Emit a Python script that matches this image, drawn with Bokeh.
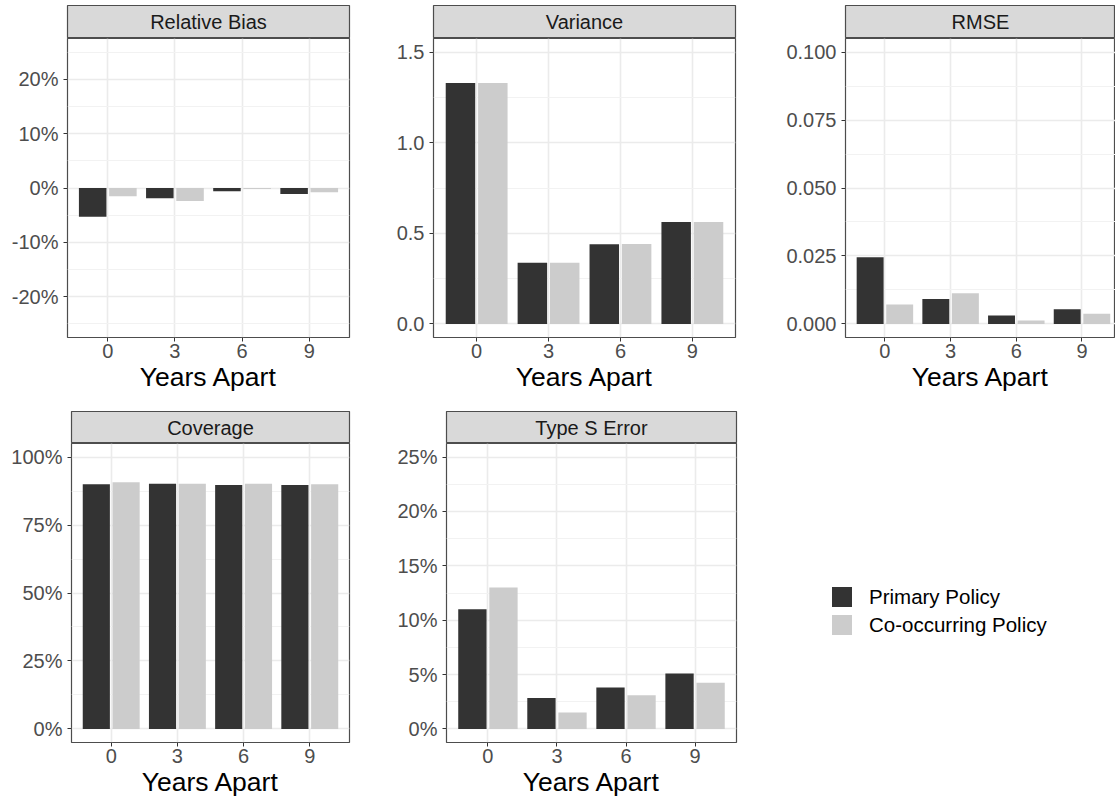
from bokeh.plotting import figure
from bokeh.models import (ColumnDataSource, Range1d, FixedTicker,
                          NumeralTickFormatter, Legend, LegendItem)
from bokeh.layouts import row, column
from bokeh.transform import dodge
from bokeh.embed import file_html
from bokeh.resources import INLINE
from bokeh.core.properties import value

# ---------------- data ----------------
years = ["0", "3", "6", "9"]
policies = ["Primary Policy", "Co-occurring Policy"]
x_title = "Years Apart"

panel_titles = ["Relative Bias", "Variance", "RMSE", "Coverage", "Type S Error"]

rel_bias_primary = [-0.053, -0.019, -0.006, -0.011]
rel_bias_cooc = [-0.015, -0.024, -0.002, -0.008]

variance_primary = [1.329, 0.337, 0.440, 0.563]
variance_cooc = [1.329, 0.337, 0.441, 0.563]

rmse_primary = [0.0245, 0.0092, 0.0031, 0.0054]
rmse_cooc = [0.0071, 0.0113, 0.0013, 0.0037]

coverage_primary = [0.900, 0.902, 0.897, 0.897]
coverage_cooc = [0.907, 0.902, 0.902, 0.900]

type_s_primary = [0.110, 0.0285, 0.038, 0.051]
type_s_cooc = [0.130, 0.015, 0.031, 0.0425]

# y-axis tick values and axis limits
ticks_bias = [-0.2, -0.1, 0.0, 0.1, 0.2]
ticks_var = [0.0, 0.5, 1.0, 1.5]
ticks_rmse = [0.0, 0.025, 0.05, 0.075, 0.1]
ticks_cov = [0.0, 0.25, 0.5, 0.75, 1.0]
ticks_types = [0.0, 0.05, 0.10, 0.15, 0.20, 0.25]

limits_bias = (-0.25, 0.25)
limits_var = (0.0, 1.5)
limits_rmse = (0.0, 0.1)
limits_cov = (0.0, 1.0)
limits_types = (0.0, 0.25)

# ---------------- style ----------------
FONT = value("Liberation Sans")
DARK = "#333333"
LIGHT = "#cccccc"
TICK_FS = "20px"
BORDER = "#4d4d4d"


def make_strip(title, width, left, right, height, top=0):
    s = figure(width=width, height=height, x_range=Range1d(0, 1),
               y_range=Range1d(0, 1), output_backend="svg",
               toolbar_location=None, min_border_left=left,
               min_border_right=right, min_border_top=top, min_border_bottom=0,
               x_axis_location=None, y_axis_location=None,
               background_fill_color="#d9d9d9", border_fill_color="white",
               outline_line_color=BORDER, outline_line_width=1.2)
    s.grid.visible = False
    s.text(x=[0.5], y=[0.5], text=[title], text_align="center",
           text_baseline="middle", text_font=FONT,
           text_font_size="20px", text_color="#1a1a1a")
    return s


def make_panel(primary, cooc, ticks, limits, fmt, width, height, left, right,
               bottom, x_end=4.6):
    xs = list(range(1, len(years) + 1))
    src = ColumnDataSource(dict(x=xs, primary=primary, cooc=cooc))
    lo, hi = limits
    span = hi - lo
    p = figure(width=width, height=height,
               x_range=Range1d(0.4, x_end),
               y_range=Range1d(lo - 0.05 * span, hi + 0.05 * span),
               output_backend="svg", toolbar_location=None,
               min_border_left=left, min_border_right=right,
               min_border_top=0, min_border_bottom=bottom,
               background_fill_color="white", border_fill_color="white",
               outline_line_color=BORDER, outline_line_width=1.2)
    p.vbar(x=dodge("x", -0.225, range=p.x_range), top="primary", width=0.41,
           source=src, fill_color=DARK, line_color=None)
    p.vbar(x=dodge("x", 0.225, range=p.x_range), top="cooc", width=0.41,
           source=src, fill_color=LIGHT, line_color=None)

    step = ticks[1] - ticks[0]
    minors = [t + step / 2 for t in ticks[:-1]]
    minors += [ticks[0] - step / 2, ticks[-1] + step / 2]
    minors = [m for m in minors if lo - 1e-9 <= m <= hi + 1e-9]

    p.xaxis.ticker = FixedTicker(ticks=xs)
    p.xaxis.major_label_overrides = {x: lab for x, lab in zip(xs, years)}
    p.xaxis.axis_label = x_title
    p.xaxis.axis_label_text_font = "Liberation Sans"
    p.xaxis.axis_label_text_font_size = "26.5px"
    p.xaxis.axis_label_text_font_style = "normal"
    p.xaxis.axis_label_text_color = "#000000"
    p.xaxis.axis_label_standoff = 1
    p.xaxis.major_label_standoff = 2

    p.yaxis.ticker = FixedTicker(ticks=ticks, minor_ticks=minors)
    p.yaxis.formatter = NumeralTickFormatter(format=fmt)
    p.yaxis.major_label_standoff = 5

    for ax in p.axis:
        ax.axis_line_color = None
        ax.major_tick_line_color = "#333333"
        ax.major_tick_line_width = 1
        ax.major_tick_out = 4
        ax.major_tick_in = 0
        ax.minor_tick_line_color = None
        ax.major_label_text_font = "Liberation Sans"
        ax.major_label_text_font_size = TICK_FS
        ax.major_label_text_color = "#4d4d4d"

    p.xgrid.grid_line_color = "#ebebeb"
    p.xgrid.grid_line_width = 1.6
    p.ygrid.grid_line_color = "#ebebeb"
    p.ygrid.grid_line_width = 1.6
    p.ygrid.minor_grid_line_color = "#f2f2f2"
    p.ygrid.minor_grid_line_width = 1.0
    return p


# ---------------- top row ----------------
TOP_STRIP_H = 38      # 5 px gap + 33 px strip
TOP_MAIN_H = 373
TOP_BOTTOM = 74

s1 = make_strip(panel_titles[0], 391, 67, 42, TOP_STRIP_H, top=5)
p1 = make_panel(rel_bias_primary, rel_bias_cooc, ticks_bias, limits_bias,
                "0%", 391, TOP_MAIN_H, 67, 42, TOP_BOTTOM)

s2 = make_strip(panel_titles[1], 392, 42, 48, TOP_STRIP_H, top=5)
p2 = make_panel(variance_primary, variance_cooc, ticks_var, limits_var,
                "0.0", 392, TOP_MAIN_H, 42, 48, TOP_BOTTOM)

s3 = make_strip(panel_titles[2], 332, 59, 0, TOP_STRIP_H, top=5)
p3 = make_panel(rmse_primary, rmse_cooc, ticks_rmse, limits_rmse,
                "0.000", 332, TOP_MAIN_H, 59, 0, TOP_BOTTOM, x_end=4.51)

# ---------------- bottom row ----------------
BOT_STRIP_H = 32
BOT_MAIN_H = 356
BOT_BOTTOM = 57

s4 = make_strip(panel_titles[3], 391, 71, 42, BOT_STRIP_H)
p4 = make_panel(coverage_primary, coverage_cooc, ticks_cov, limits_cov,
                "0%", 391, BOT_MAIN_H, 71, 42, BOT_BOTTOM)

s5 = make_strip(panel_titles[4], 392, 55, 47, BOT_STRIP_H)
p5 = make_panel(type_s_primary, type_s_cooc, ticks_types, limits_types,
                "0%", 392, BOT_MAIN_H, 55, 47, BOT_BOTTOM)

# ---------------- legend ----------------
lg = figure(width=332, height=BOT_STRIP_H + BOT_MAIN_H, x_range=Range1d(0, 1),
            y_range=Range1d(0, 1), output_backend="svg", toolbar_location=None,
            min_border=0, x_axis_location=None, y_axis_location=None,
            outline_line_color=None, background_fill_color="white",
            border_fill_color="white")
lg.grid.visible = False
# legend-only renderers: zero-height bars, nothing visible in the plot area
r_dark = lg.vbar(x=[0.5], top=[0], bottom=[0], width=0.1,
                 fill_color=DARK, line_color=None)
r_light = lg.vbar(x=[0.5], top=[0], bottom=[0], width=0.1,
                  fill_color=LIGHT, line_color=None)
legend = Legend(items=[LegendItem(label=policies[0], renderers=[r_dark]),
                       LegendItem(label=policies[1], renderers=[r_light])],
                location=(46, 162), glyph_width=25, glyph_height=25,
                spacing=3, padding=0, margin=0, label_standoff=15,
                label_text_font="Liberation Sans", label_text_font_size="20.5px",
                label_text_color="#000000", border_line_color=None,
                background_fill_alpha=0)
lg.add_layout(legend)

top = row(column(s1, p1), column(s2, p2), column(s3, p3))
bottom = row(column(s4, p4), column(s5, p5), lg)
root = column(top, bottom)

open("out.html", "w").write(file_html(root, INLINE))
